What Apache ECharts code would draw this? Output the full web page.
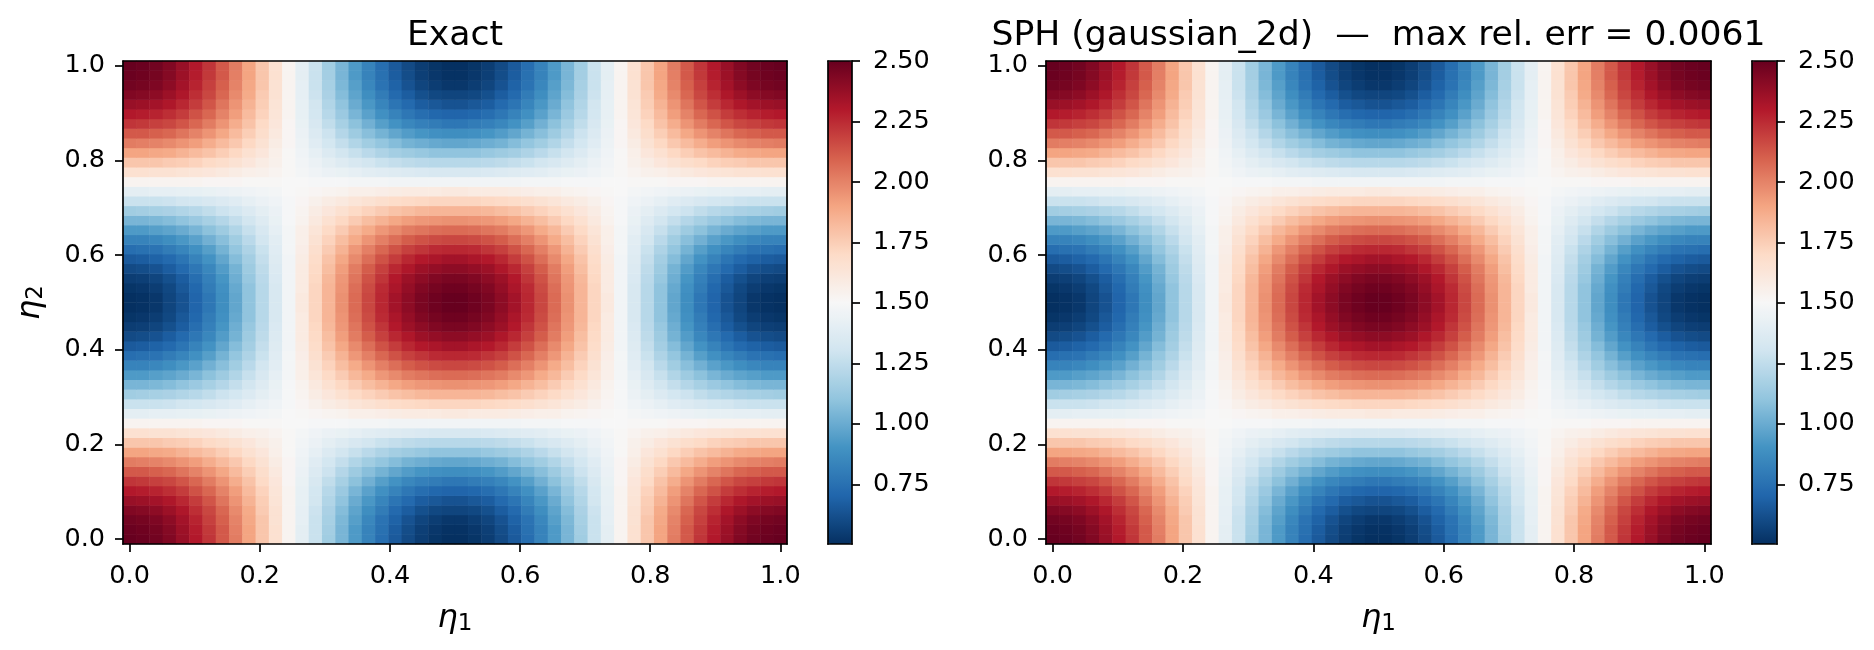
<!DOCTYPE html>
<html>
<head>
<meta charset="utf-8">
<style>html,body{margin:0;padding:0;background:#fff}#c{width:1874px;height:650px}</style>
<script src="https://cdn.jsdelivr.net/npm/echarts@6/dist/echarts.min.js"></script>
</head>
<body>
<div id="c"></div>
<script>
// Values: the field is symmetric top/bottom, so each row is listed once (row00 = eta2 0.0 edge).
const row00=[2.5,2.49,2.47,2.43,2.37,2.3,2.22,2.12,2.02,1.9,1.78,1.66,1.53,1.4,1.28,1.15,1.04,.93,.83,.74,.66,.6,.55,.52,.5,.5,.52,.55,.6,.66,.74,.83,.93,1.04,1.15,1.28,1.4,1.53,1.66,1.78,1.9,2.02,2.12,2.22,2.3,2.37,2.43,2.47,2.49,2.5];
const row01=[2.49,2.48,2.46,2.42,2.36,2.29,2.21,2.12,2.01,1.9,1.78,1.66,1.53,1.4,1.28,1.16,1.04,.93,.83,.75,.67,.61,.56,.53,.51,.51,.53,.56,.61,.67,.75,.83,.93,1.04,1.16,1.28,1.4,1.53,1.66,1.78,1.9,2.01,2.12,2.21,2.29,2.36,2.42,2.46,2.48,2.49];
const row02=[2.47,2.46,2.44,2.4,2.34,2.27,2.19,2.1,2,1.89,1.78,1.65,1.53,1.41,1.28,1.17,1.05,.95,.85,.76,.69,.63,.58,.55,.53,.53,.55,.58,.63,.69,.76,.85,.95,1.05,1.17,1.28,1.41,1.53,1.65,1.78,1.89,2,2.1,2.19,2.27,2.34,2.4,2.44,2.46,2.47];
const row03=[2.43,2.42,2.4,2.36,2.31,2.24,2.17,2.08,1.98,1.88,1.76,1.65,1.53,1.41,1.29,1.18,1.07,.97,.88,.8,.72,.67,.62,.59,.58,.58,.59,.62,.67,.72,.8,.88,.97,1.07,1.18,1.29,1.41,1.53,1.65,1.76,1.88,1.98,2.08,2.17,2.24,2.31,2.36,2.4,2.42,2.43];
const row04=[2.37,2.36,2.34,2.31,2.26,2.2,2.13,2.04,1.95,1.85,1.75,1.64,1.53,1.42,1.31,1.2,1.1,1,.92,.84,.77,.72,.67,.65,.63,.63,.65,.67,.72,.77,.84,.92,1,1.1,1.2,1.31,1.42,1.53,1.64,1.75,1.85,1.95,2.04,2.13,2.2,2.26,2.31,2.34,2.36,2.37];
const row05=[2.3,2.29,2.27,2.24,2.2,2.14,2.08,2,1.92,1.82,1.73,1.63,1.53,1.42,1.32,1.22,1.13,1.04,.96,.89,.83,.78,.74,.71,.7,.7,.71,.74,.78,.83,.89,.96,1.04,1.13,1.22,1.32,1.42,1.53,1.63,1.73,1.82,1.92,2,2.08,2.14,2.2,2.24,2.27,2.29,2.3];
const row06=[2.22,2.21,2.19,2.17,2.13,2.08,2.02,1.95,1.87,1.79,1.7,1.62,1.52,1.43,1.34,1.25,1.17,1.09,1.02,.95,.9,.85,.82,.8,.78,.78,.8,.82,.85,.9,.95,1.02,1.09,1.17,1.25,1.34,1.43,1.52,1.62,1.7,1.79,1.87,1.95,2.02,2.08,2.13,2.17,2.19,2.21,2.22];
const row07=[2.12,2.12,2.1,2.08,2.04,2,1.95,1.89,1.82,1.75,1.68,1.6,1.52,1.44,1.36,1.29,1.21,1.14,1.08,1.03,.98,.94,.91,.89,.88,.88,.89,.91,.94,.98,1.03,1.08,1.14,1.21,1.29,1.36,1.44,1.52,1.6,1.68,1.75,1.82,1.89,1.95,2,2.04,2.08,2.1,2.12,2.12];
const row08=[2.02,2.01,2,1.98,1.95,1.92,1.87,1.82,1.77,1.71,1.65,1.58,1.52,1.45,1.38,1.32,1.26,1.2,1.15,1.11,1.07,1.03,1.01,.99,.98,.98,.99,1.01,1.03,1.07,1.11,1.15,1.2,1.26,1.32,1.38,1.45,1.52,1.58,1.65,1.71,1.77,1.82,1.87,1.92,1.95,1.98,2,2.01,2.02];
const row09=[1.9,1.9,1.89,1.88,1.85,1.82,1.79,1.75,1.71,1.66,1.62,1.56,1.51,1.46,1.41,1.36,1.31,1.27,1.23,1.19,1.16,1.14,1.12,1.1,1.1,1.1,1.1,1.12,1.14,1.16,1.19,1.23,1.27,1.31,1.36,1.41,1.46,1.51,1.56,1.62,1.66,1.71,1.75,1.79,1.82,1.85,1.88,1.89,1.9,1.9];
const row10=[1.78,1.78,1.78,1.76,1.75,1.73,1.7,1.68,1.65,1.62,1.58,1.55,1.51,1.47,1.44,1.4,1.37,1.34,1.31,1.28,1.26,1.24,1.23,1.22,1.22,1.22,1.22,1.23,1.24,1.26,1.28,1.31,1.34,1.37,1.4,1.44,1.47,1.51,1.55,1.58,1.62,1.65,1.68,1.7,1.73,1.75,1.76,1.78,1.78,1.78];
const row11=[1.66,1.66,1.65,1.65,1.64,1.63,1.62,1.6,1.58,1.56,1.55,1.53,1.51,1.48,1.46,1.44,1.43,1.41,1.39,1.38,1.37,1.36,1.35,1.34,1.34,1.34,1.34,1.35,1.36,1.37,1.38,1.39,1.41,1.43,1.44,1.46,1.48,1.51,1.53,1.55,1.56,1.58,1.6,1.62,1.63,1.64,1.65,1.65,1.66,1.66];
const row12=[1.53,1.53,1.53,1.53,1.53,1.53,1.52,1.52,1.52,1.51,1.51,1.51,1.5,1.5,1.49,1.49,1.49,1.48,1.48,1.48,1.47,1.47,1.47,1.47,1.47,1.47,1.47,1.47,1.47,1.47,1.48,1.48,1.48,1.49,1.49,1.49,1.5,1.5,1.51,1.51,1.51,1.52,1.52,1.52,1.53,1.53,1.53,1.53,1.53,1.53];
const row13=[1.4,1.4,1.41,1.41,1.42,1.42,1.43,1.44,1.45,1.46,1.47,1.48,1.5,1.51,1.52,1.53,1.54,1.56,1.56,1.57,1.58,1.59,1.59,1.59,1.6,1.6,1.59,1.59,1.59,1.58,1.57,1.56,1.56,1.54,1.53,1.52,1.51,1.5,1.48,1.47,1.46,1.45,1.44,1.43,1.42,1.42,1.41,1.41,1.4,1.4];
const row14=[1.28,1.28,1.28,1.29,1.31,1.32,1.34,1.36,1.38,1.41,1.44,1.46,1.49,1.52,1.55,1.58,1.6,1.63,1.65,1.67,1.69,1.7,1.71,1.72,1.72,1.72,1.72,1.71,1.7,1.69,1.67,1.65,1.63,1.6,1.58,1.55,1.52,1.49,1.46,1.44,1.41,1.38,1.36,1.34,1.32,1.31,1.29,1.28,1.28,1.28];
const row15=[1.15,1.16,1.17,1.18,1.2,1.22,1.25,1.29,1.32,1.36,1.4,1.44,1.49,1.53,1.58,1.62,1.66,1.7,1.73,1.76,1.79,1.81,1.83,1.84,1.84,1.84,1.84,1.83,1.81,1.79,1.76,1.73,1.7,1.66,1.62,1.58,1.53,1.49,1.44,1.4,1.36,1.32,1.29,1.25,1.22,1.2,1.18,1.17,1.16,1.15];
const row16=[1.04,1.04,1.05,1.07,1.1,1.13,1.17,1.21,1.26,1.31,1.37,1.43,1.49,1.54,1.6,1.66,1.71,1.76,1.81,1.85,1.89,1.92,1.94,1.95,1.96,1.96,1.95,1.94,1.92,1.89,1.85,1.81,1.76,1.71,1.66,1.6,1.54,1.49,1.43,1.37,1.31,1.26,1.21,1.17,1.13,1.1,1.07,1.05,1.04,1.04];
const row17=[.93,.93,.95,.97,1,1.04,1.09,1.14,1.2,1.27,1.34,1.41,1.48,1.56,1.63,1.7,1.76,1.83,1.88,1.94,1.98,2.02,2.04,2.06,2.07,2.07,2.06,2.04,2.02,1.98,1.94,1.88,1.83,1.76,1.7,1.63,1.56,1.48,1.41,1.34,1.27,1.2,1.14,1.09,1.04,1,.97,.95,.93,.93];
const row18=[.83,.83,.85,.88,.92,.96,1.02,1.08,1.15,1.23,1.31,1.39,1.48,1.56,1.65,1.73,1.81,1.88,1.95,2.01,2.06,2.11,2.14,2.16,2.17,2.17,2.16,2.14,2.11,2.06,2.01,1.95,1.88,1.81,1.73,1.65,1.56,1.48,1.39,1.31,1.23,1.15,1.08,1.02,.96,.92,.88,.85,.83,.83];
const row19=[.74,.75,.76,.8,.84,.89,.95,1.03,1.11,1.19,1.28,1.38,1.48,1.57,1.67,1.76,1.85,1.94,2.01,2.08,2.14,2.19,2.22,2.25,2.26,2.26,2.25,2.22,2.19,2.14,2.08,2.01,1.94,1.85,1.76,1.67,1.57,1.48,1.38,1.28,1.19,1.11,1.03,.95,.89,.84,.8,.76,.75,.74];
const row20=[.66,.67,.69,.72,.77,.83,.9,.98,1.07,1.16,1.26,1.37,1.47,1.58,1.69,1.79,1.89,1.98,2.06,2.14,2.2,2.26,2.3,2.32,2.34,2.34,2.32,2.3,2.26,2.2,2.14,2.06,1.98,1.89,1.79,1.69,1.58,1.47,1.37,1.26,1.16,1.07,.98,.9,.83,.77,.72,.69,.67,.66];
const row21=[.6,.61,.63,.67,.72,.78,.85,.94,1.03,1.14,1.24,1.36,1.47,1.59,1.7,1.81,1.92,2.02,2.11,2.19,2.26,2.31,2.36,2.38,2.4,2.4,2.38,2.36,2.31,2.26,2.19,2.11,2.02,1.92,1.81,1.7,1.59,1.47,1.36,1.24,1.14,1.03,.94,.85,.78,.72,.67,.63,.61,.6];
const row22=[.55,.56,.58,.62,.67,.74,.82,.91,1.01,1.12,1.23,1.35,1.47,1.59,1.71,1.83,1.94,2.04,2.14,2.22,2.3,2.36,2.4,2.43,2.45,2.45,2.43,2.4,2.36,2.3,2.22,2.14,2.04,1.94,1.83,1.71,1.59,1.47,1.35,1.23,1.12,1.01,.91,.82,.74,.67,.62,.58,.56,.55];
const row23=[.52,.53,.55,.59,.65,.71,.8,.89,.99,1.1,1.22,1.34,1.47,1.59,1.72,1.84,1.95,2.06,2.16,2.25,2.32,2.38,2.43,2.46,2.48,2.48,2.46,2.43,2.38,2.32,2.25,2.16,2.06,1.95,1.84,1.72,1.59,1.47,1.34,1.22,1.1,.99,.89,.8,.71,.65,.59,.55,.53,.52];
const row24=[.5,.51,.53,.58,.63,.7,.78,.88,.98,1.1,1.22,1.34,1.47,1.6,1.72,1.84,1.96,2.07,2.17,2.26,2.34,2.4,2.45,2.48,2.5,2.5,2.48,2.45,2.4,2.34,2.26,2.17,2.07,1.96,1.84,1.72,1.6,1.47,1.34,1.22,1.1,.98,.88,.78,.7,.63,.58,.53,.51,.5];
const fieldRows=[row00,row01,row02,row03,row04,row05,row06,row07,row08,row09,row10,row11,row12,row13,row14,row15,row16,row17,row18,row19,row20,row21,row22,row23,row24,
                 row24,row23,row22,row21,row20,row19,row18,row17,row16,row15,row14,row13,row12,row11,row10,row09,row08,row07,row06,row05,row04,row03,row02,row01,row00];
const etaTicks=[0,0.2,0.4,0.6,0.8,1];
const colorbarTicks=[0.75,1,1.25,1.5,1.75,2,2.25,2.5];
const titles=['Exact','SPH (gaussian_2d)  \u2014  max rel. err = 0.0061'];
const colorMin=0.503, colorMax=2.5;
const rdBu=['#053061','#2166ac','#4393c3','#92c5de','#d1e5f0','#f7f7f7','#fddbc7','#f4a582','#d6604d','#b2182b','#67001f'];

const FONT='"DejaVu Sans"', TICK=25.5, LW=1.7, TL=8;
const cats=fieldRows.map((_,i)=>i);
const cells=[];
fieldRows.forEach((r,y)=>r.forEach((v,x)=>cells.push([x,y,v])));
const etaRange={min:-0.0102,max:1.0102};
const line={lineStyle:{color:'#000',width:LW}};
const plots=[{left:123,width:664},{left:1046,width:665}];
const bars=[{left:828,width:24},{left:1752,width:25}];
const TOP=61,H=483;

const grid=[],xAxis=[],yAxis=[],series=[],visualMap=[],title=[];
const off={show:false};
function nameRich(sub){return {
  name:'{e|\u03b7}{s|'+sub+'}',
  nameLocation:'middle',
  nameTextStyle:{rich:{
    e:{fontFamily:FONT,fontStyle:'italic',fontSize:32,color:'#000'},
    s:{fontFamily:FONT,fontSize:23,color:'#000',verticalAlign:'bottom',padding:[11,0,0,0]}
  }}
};}
plots.forEach((p,i)=>{
  grid.push({left:p.left,width:p.width,top:TOP,height:H,containLabel:false,show:false});
  const gi=grid.length-1;
  const tickFmt=v=>v.toFixed(1);
  xAxis.push({gridIndex:gi,type:'category',position:'top',data:cats,boundaryGap:true,z:10,
    axisLine:Object.assign({show:true,onZero:false},line),axisTick:off,axisLabel:off,splitLine:off});
  yAxis.push({gridIndex:gi,type:'category',position:'right',data:cats,boundaryGap:true,z:10,
    axisLine:Object.assign({show:true,onZero:false},line),axisTick:off,axisLabel:off,splitLine:off});
  xAxis.push(Object.assign({gridIndex:gi,type:'value',position:'bottom',min:etaRange.min,max:etaRange.max,z:10,
    axisLine:Object.assign({show:true,onZero:false},line),
    axisTick:Object.assign({show:true,length:TL,customValues:etaTicks},line),
    axisLabel:{show:true,customValues:etaTicks,formatter:tickFmt,fontFamily:FONT,fontSize:TICK,color:'#000',margin:19},
    splitLine:off,nameGap:58},nameRich('1')));
  const y=Object.assign({gridIndex:gi,type:'value',position:'left',min:etaRange.min,max:etaRange.max,z:10,
    axisLine:Object.assign({show:true,onZero:false},line),
    axisTick:Object.assign({show:true,length:TL,customValues:etaTicks},line),
    axisLabel:{show:true,customValues:etaTicks,formatter:tickFmt,fontFamily:FONT,fontSize:TICK,color:'#000',margin:18,padding:[9,0,0,0]},
    splitLine:off},i===0?Object.assign(nameRich('2'),{nameGap:75,nameRotate:90}):{});
  yAxis.push(y);
  series.push({type:'heatmap',xAxisIndex:xAxis.length-2,yAxisIndex:yAxis.length-2,data:cells,progressive:0,
    itemStyle:{borderWidth:0},emphasis:{disabled:true},silent:true});
  visualMap.push({type:'continuous',seriesIndex:i,dimension:2,min:colorMin,max:colorMax,calculable:false,hoverLink:false,
    show:true,left:bars[i].left,top:TOP,itemWidth:bars[i].width,itemHeight:H,padding:0,text:null,showLabel:false,
    inRange:{color:rdBu}});
  title.push({text:titles[i],left:p.left+p.width/2,top:19,padding:0,textAlign:'center',
    textStyle:{fontFamily:FONT,fontSize:34.6,fontWeight:'normal',color:'#000'}});
});
bars.forEach(b=>{
  grid.push({left:b.left,width:b.width,top:TOP,height:H,containLabel:false,show:false});
  const gi=grid.length-1;
  ['bottom','top'].forEach(pos=>xAxis.push({gridIndex:gi,type:'value',position:pos,min:0,max:1,z:10,
    axisLine:Object.assign({show:true,onZero:false},line),axisTick:off,axisLabel:off,splitLine:off}));
  yAxis.push({gridIndex:gi,type:'value',position:'left',min:colorMin,max:colorMax,z:10,
    axisLine:Object.assign({show:true,onZero:false},line),axisTick:off,axisLabel:off,splitLine:off});
  yAxis.push({gridIndex:gi,type:'value',position:'right',min:colorMin,max:colorMax,z:10,
    axisLine:Object.assign({show:true,onZero:false},line),
    axisTick:Object.assign({show:true,length:TL,customValues:colorbarTicks},line),
    axisLabel:{show:true,customValues:colorbarTicks,formatter:v=>v.toFixed(2),fontFamily:FONT,fontSize:TICK,color:'#000',margin:21,padding:[9,0,0,0]},
    splitLine:off});
});
const chart=echarts.init(document.getElementById('c'),null,{renderer:'canvas'});
chart.setOption({animation:false,backgroundColor:'#fff',title,grid,xAxis,yAxis,visualMap,series});
</script>
</body>
</html>
